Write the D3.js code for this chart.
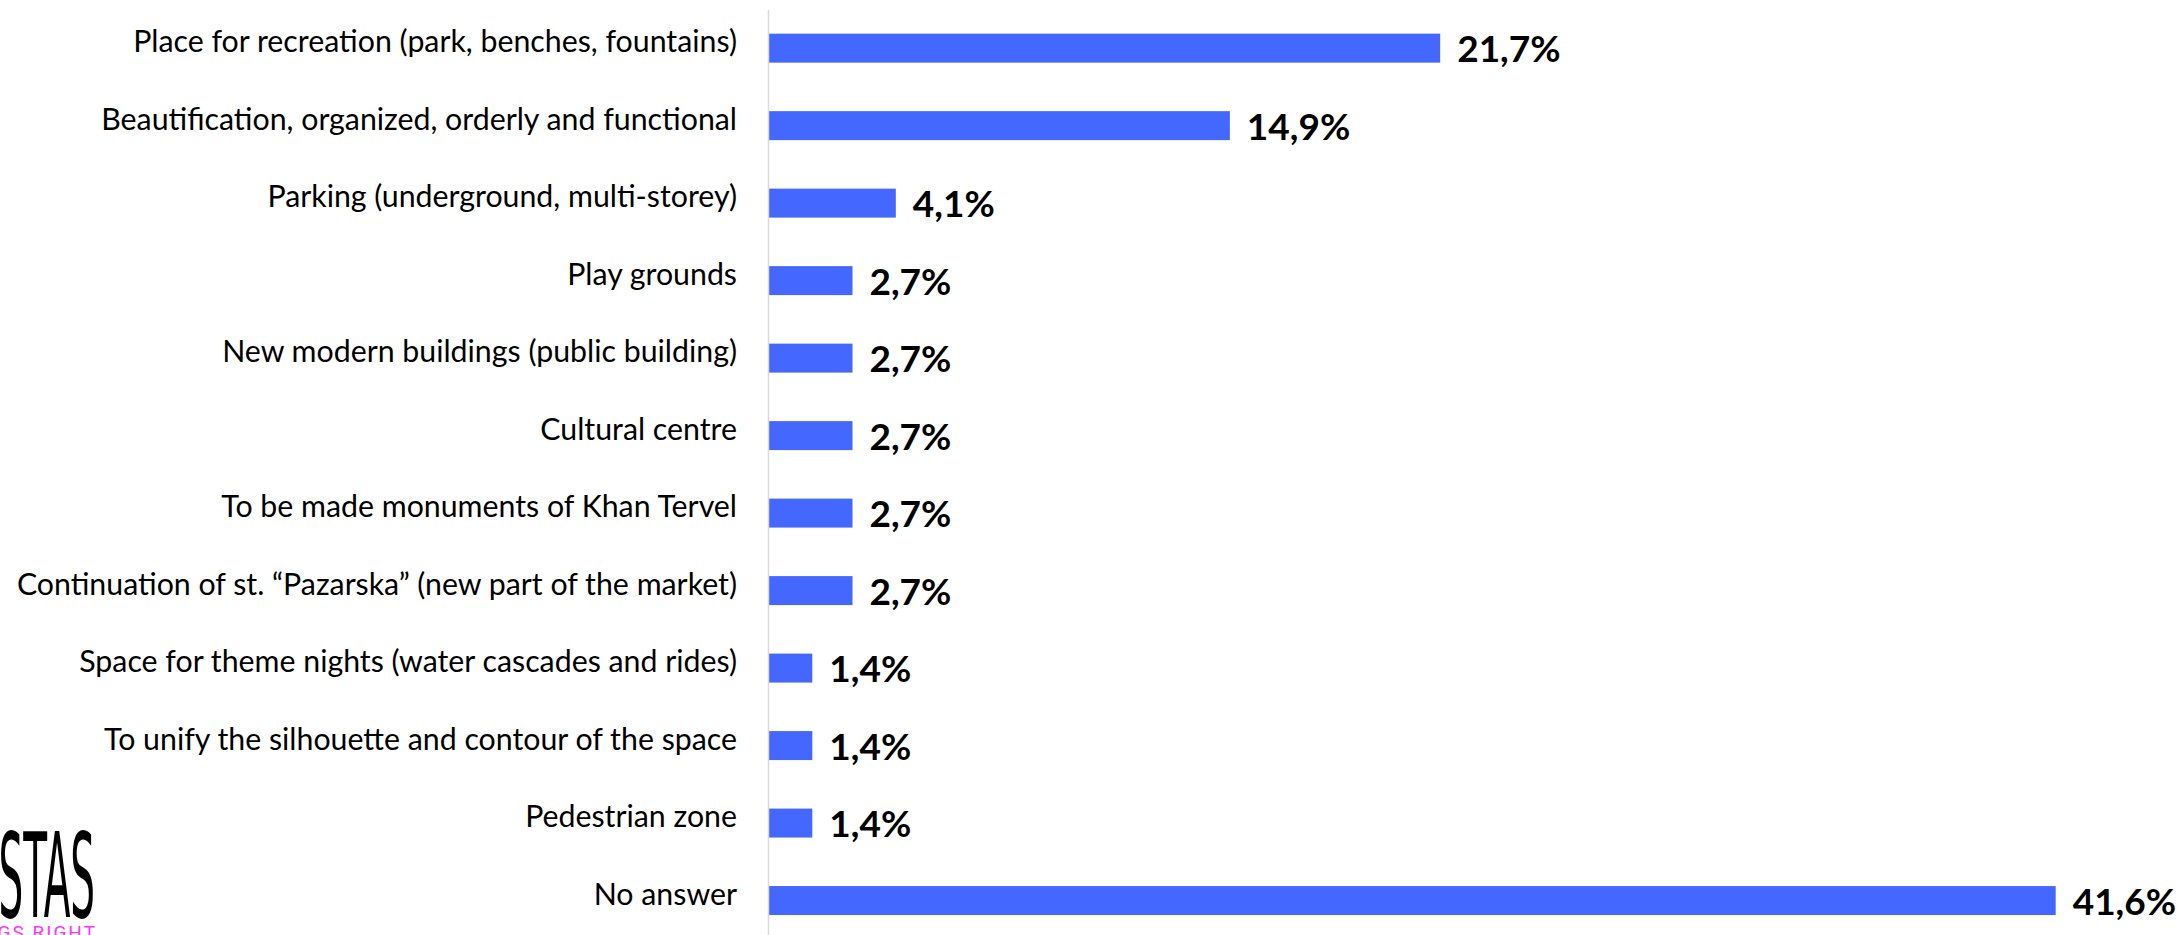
<!DOCTYPE html>
<html>
<head>
<meta charset="utf-8">
<script src="https://cdn.jsdelivr.net/npm/d3@7"></script>
<style>
    body { margin: 0; background: #fff; }
    svg { display: block; }
    .catLabel { font-family: Lato, "Open Sans", sans-serif; font-size: 30.3px; fill: #000; }
    .valLabel { font-family: Lato, "Open Sans", sans-serif; font-size: 37px; font-weight: bold; fill: #000; }
</style>
</head>
<body>
<div id="chart"></div>
<script>
// answers, top to bottom
let categories = [
    "Place for recreation (park, benches, fountains)",
    "Beautification, organized, orderly and functional",
    "Parking (underground, multi-storey)",
    "Play grounds",
    "New modern buildings (public building)",
    "Cultural centre",
    "To be made monuments of Khan Tervel",
    "Continuation of st. “Pazarska” (new part of the market)",
    "Space for theme nights (water cascades and rides)",
    "To unify the silhouette and contour of the space",
    "Pedestrian zone",
    "No answer"
];
let values = [21.7, 14.9, 4.1, 2.7, 2.7, 2.7, 2.7, 2.7, 1.4, 1.4, 1.4, 41.6];
let valueLabels = ["21,7%", "14,9%", "4,1%", "2,7%", "2,7%", "2,7%", "2,7%", "2,7%", "1,4%", "1,4%", "1,4%", "41,6%"];

let width = 2184, height = 935;
let axisX = 768;

let svg = d3.select("#chart").append("svg")
    .attr("width", width)
    .attr("height", height);

let data = categories.map((c, i) => ({cat: c, value: values[i], label: valueLabels[i]}));

let yscale = d3.scaleBand()
    .domain(categories)
    .range([9.4, 939.3])
    .paddingInner(0.626)
    .paddingOuter(0.313);

let xscale = d3.scaleLinear()
    .domain([0, 45])
    .range([axisX + 1, axisX + 1 + 45 * 30.93]);

// bars
svg.selectAll("rect.bar").data(data)
    .enter().append("rect")
    .attr("class", "bar")
    .attr("x", xscale(0))
    .attr("y", d => yscale(d.cat))
    .attr("width", d => xscale(d.value) - xscale(0))
    .attr("height", yscale.bandwidth())
    .attr("fill", "#4468ff");

// category axis
let yaxis = d3.axisLeft(yscale).tickSize(0).tickPadding(31);
let gAxis = svg.append("g")
    .attr("transform", "translate(" + axisX + ",0)")
    .call(yaxis);
gAxis.select(".domain").attr("stroke", "#d9d9d9").attr("stroke-width", 1.5);
gAxis.selectAll(".tick text")
    .attr("class", "catLabel")
    .attr("dy", "0.13em");
gAxis.attr("font-family", null).attr("font-size", null);

// value labels
svg.selectAll("text.valLabel").data(data)
    .enter().append("text")
    .attr("class", "valLabel")
    .attr("x", d => xscale(d.value) + 17)
    .attr("y", d => yscale(d.cat) + yscale.bandwidth() / 2 + 14)
    .text(d => d.label);

// partial logo in the corner
let logo = svg.append("g");
logo.append("text")
    .attr("transform", "translate(95,917) scale(0.37,1)")
    .attr("text-anchor", "end")
    .attr("font-family", "'DejaVu Sans Condensed', 'DejaVu Sans', sans-serif")
    .attr("font-size", 117)
    .attr("fill", "#000")
    .text("STAS");
logo.append("text")
    .attr("x", 97)
    .attr("y", 939)
    .attr("text-anchor", "end")
    .attr("font-family", "Roboto, sans-serif")
    .attr("font-size", 19)
    .attr("letter-spacing", 2)
    .attr("fill", "#ff33ff")
    .text("GS RIGHT");
</script>
</body>
</html>
